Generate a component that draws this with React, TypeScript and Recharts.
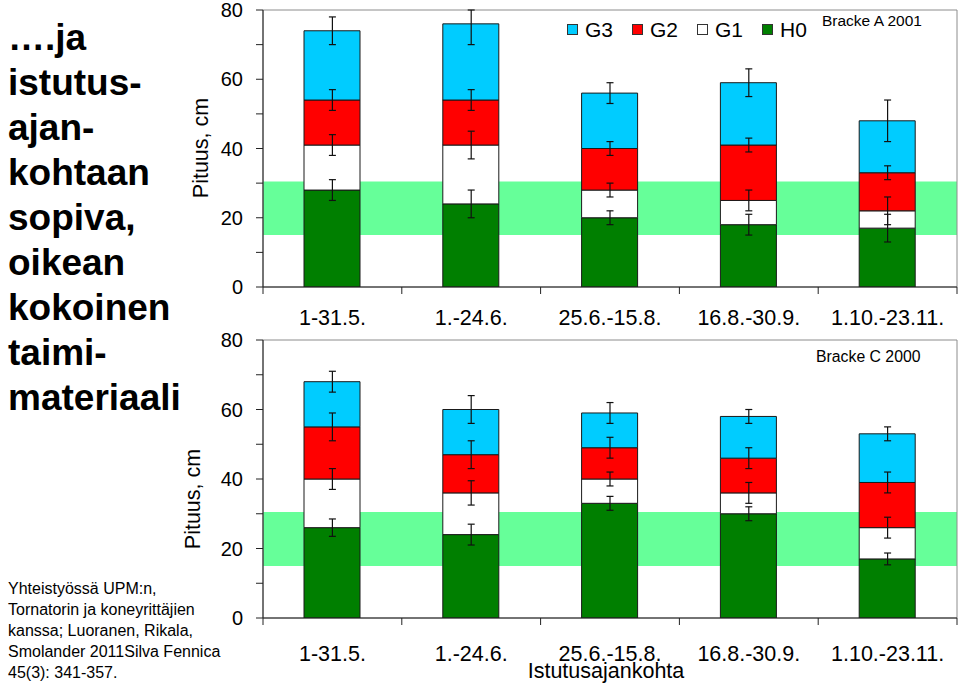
import React from 'react';
import { ComposedChart, Bar, Line, XAxis, YAxis, ReferenceArea, ErrorBar, Legend } from 'recharts';

// ---------- data ----------
const categories = ['1-31.5.', '1.-24.6.', '25.6.-15.8.', '16.8.-30.9.', '1.10.-23.11.'];
const yTicks = [0, 10, 20, 30, 40, 50, 60, 70, 80];
const bandLow = 15;
const bandHigh = 30.5;

type Err = number | [number, number];

// Bracke A 2001 (segment heights, cm)
const aH0 = [28, 24, 20, 18, 17];
const aG1 = [13, 17, 8, 7, 5];
const aG2 = [13, 13, 12, 16, 11];
const aG3 = [20, 22, 16, 18, 15];
// error bars (single value = ±, pair = [down, up] where the bar is cut by the axis top)
const aH0Err: Err[] = [3, 4, 2, 3, 4];
const aG1Err: Err[] = [3, 4, 2, 3, 4];
const aG2Err: Err[] = [3, 3, 2, 2, 2];
const aG3Err: Err[] = [4, [6, 4], 3, 4, 6];

// Bracke C 2000
const cH0 = [26, 24, 33, 30, 17];
const cG1 = [14, 12, 7, 6, 9];
const cG2 = [15, 11, 9, 10, 13];
const cG3 = [13, 13, 10, 12, 14];
const cH0Err: Err[] = [2.5, 3, 2, 2, 1.7];
const cG1Err: Err[] = [3, 3.5, 2, 3, 3];
const cG2Err: Err[] = [4, 4, 3, 3, 3];
const cG3Err: Err[] = [3, 4, 3, 2, 2];

const seriesNames = ['H0', 'G1', 'G2', 'G3'];
const seriesColors: Record<string, string> = {
  H0: '#007F00',
  G1: '#FFFFFF',
  G2: '#FF0000',
  G3: '#00CCFF',
};
const legendOrder = ['G3', 'G2', 'G1', 'H0'];

function buildRows(h0: number[], g1: number[], g2: number[], g3: number[], e0: Err[], e1: Err[], e2: Err[], e3: Err[]) {
  return categories.map((cat, i) => ({
    cat,
    H0: h0[i],
    G1: g1[i],
    G2: g2[i],
    G3: g3[i],
    tH0: h0[i],
    tG1: h0[i] + g1[i],
    tG2: h0[i] + g1[i] + g2[i],
    tG3: h0[i] + g1[i] + g2[i] + g3[i],
    eH0: e0[i],
    eG1: e1[i],
    eG2: e2[i],
    eG3: e3[i],
  }));
}

const rowsA = buildRows(aH0, aG1, aG2, aG3, aH0Err, aG1Err, aG2Err, aG3Err);
const rowsC = buildRows(cH0, cG1, cG2, cG3, cH0Err, cG1Err, cG2Err, cG3Err);

const FONT = '"Liberation Sans", Arial, sans-serif';
const X_TICK_SIZE = 6;

const YTick = (props: any) => {
  const { x, y, payload } = props;
  if (payload.value % 20 !== 0) return <g />;
  return (
    <text x={x} y={y} dy="0.355em" textAnchor="end" fontSize={20} fill="#000" fontFamily={FONT}>
      {payload.value}
    </text>
  );
};

const makeXTick = (tickMargin: number) => (props: any) => {
  const { x, y, payload, index, visibleTicksCount } = props;
  const half = payload && typeof payload.offset === 'number' ? payload.offset : 0;
  const axisY = y - X_TICK_SIZE - tickMargin;
  return (
    <g>
      <line x1={x - half} x2={x - half} y1={axisY} y2={axisY + 7} stroke="#222" strokeWidth={1} />
      {index === visibleTicksCount - 1 ? (
        <line x1={x + half} x2={x + half} y1={axisY} y2={axisY + 7} stroke="#222" strokeWidth={1} />
      ) : null}
      <text x={x} y={y} dy="0.71em" textAnchor="middle" fontSize={21.5} fill="#000" fontFamily={FONT}>
        {payload.value}
      </text>
    </g>
  );
};

const renderLegend = () => (
  <div style={{ display: 'flex', alignItems: 'center', fontFamily: FONT }}>
    {legendOrder.map((name) => (
      <div key={name} style={{ width: 65, display: 'flex', alignItems: 'center', height: 21 }}>
        <span
          style={{
            display: 'inline-block',
            width: 9,
            height: 9,
            background: seriesColors[name],
            border: '1px solid #333',
            marginRight: 7,
          }}
        />
        <span style={{ fontSize: 21, lineHeight: '21px', color: '#000' }}>{name}</span>
      </div>
    ))}
  </div>
);

type PanelProps = {
  rows: any[];
  height: number;
  xAxisHeight: number;
  tickMargin: number;
  showLegend?: boolean;
  xLabel?: string;
};

const Panel = ({ rows, height, xAxisHeight, tickMargin, showLegend, xLabel }: PanelProps) => (
  <ComposedChart
    width={959}
    height={height}
    data={rows}
    margin={{ top: 10, right: 2, bottom: 0, left: 0 }}
  >
    <XAxis
      dataKey="cat"
      height={xAxisHeight}
      tickSize={X_TICK_SIZE}
      tickMargin={tickMargin}
      tickLine={false}
      axisLine={{ stroke: '#222', strokeWidth: 1 }}
      tick={makeXTick(tickMargin)}
      interval={0}
      label={
        xLabel
          ? { value: xLabel, position: 'insideBottom', offset: 7, dx: -4, fontSize: 21.5, fill: '#000', fontFamily: FONT }
          : undefined
      }
    />
    <YAxis
      width={263}
      domain={[0, 80]}
      ticks={yTicks}
      allowDataOverflow
      interval={0}
      tickSize={7}
      tickMargin={13}
      tickLine={{ stroke: '#222' }}
      axisLine={{ stroke: '#222', strokeWidth: 1 }}
      tick={<YTick />}
    />
    <ReferenceArea y1={bandLow} y2={bandHigh} fill="#66FF99" fillOpacity={1} stroke="none" ifOverflow="visible" />
    <ReferenceArea y1={0} y2={80} fill="none" stroke="#8c8c8c" strokeWidth={1} ifOverflow="visible" />
    {seriesNames.map((name) => (
      <Bar
        key={name}
        dataKey={name}
        stackId="s"
        barSize={56}
        fill={seriesColors[name]}
        stroke="#1a1a1a"
        strokeWidth={1}
        isAnimationActive={false}
      />
    ))}
    {seriesNames.map((name) => (
      <Line
        key={'t' + name}
        dataKey={'t' + name}
        stroke="none"
        dot={false}
        activeDot={false}
        legendType="none"
        isAnimationActive={false}
      >
        <ErrorBar dataKey={'e' + name} width={3.5} stroke="#111" strokeWidth={1.2} direction="y" />
      </Line>
    ))}
    {showLegend ? (
      <Legend
        layout="horizontal"
        verticalAlign="middle"
        align="center"
        content={renderLegend}
        wrapperStyle={{ position: 'absolute', left: 567, top: 19, width: 270, height: 21 }}
      />
    ) : null}
  </ComposedChart>
);

const rotLabel = (cx: number, cy: number): React.CSSProperties => ({
  position: 'absolute',
  left: cx,
  top: cy,
  transform: 'translate(-50%, -50%) rotate(-90deg)',
  whiteSpace: 'nowrap',
  fontSize: 21.5,
  lineHeight: '22px',
  color: '#000',
});

export default function App() {
  return (
    <div
      style={{
        position: 'absolute',
        left: 0,
        top: 0,
        width: 959,
        height: 685,
        background: '#fff',
        fontFamily: FONT,
        overflow: 'hidden',
      }}
    >
      <div style={{ position: 'absolute', left: 0, top: 330 }}>
        <Panel rows={rowsC} height={355} xAxisHeight={67} tickMargin={22} xLabel="Istutusajankohta" />
      </div>
      <div style={{ position: 'absolute', left: 0, top: 0 }}>
        <Panel rows={rowsA} height={340} xAxisHeight={53} tickMargin={17} showLegend />
      </div>

      <div style={rotLabel(201, 148)}>Pituus, cm</div>
      <div style={rotLabel(193, 499)}>Pituus, cm</div>

      <div style={{ position: 'absolute', left: 822, top: 13, fontSize: 15.5, lineHeight: '15.5px', whiteSpace: 'nowrap' }}>
        Bracke A 2001
      </div>
      <div style={{ position: 'absolute', left: 816, top: 349, fontSize: 15.8, lineHeight: '15.8px', whiteSpace: 'nowrap' }}>
        Bracke C 2000
      </div>

      <div
        style={{
          position: 'absolute',
          left: 8,
          top: 14.7,
          fontSize: 37,
          lineHeight: '45px',
          fontWeight: 'bold',
          color: '#000',
          whiteSpace: 'nowrap',
        }}
      >
        <div>….ja</div>
        <div>istutus-</div>
        <div>ajan-</div>
        <div>kohtaan</div>
        <div>sopiva,</div>
        <div>oikean</div>
        <div>kokoinen</div>
        <div>taimi-</div>
        <div>materiaali</div>
      </div>

      <div
        style={{
          position: 'absolute',
          left: 8,
          top: 578,
          fontSize: 16,
          lineHeight: '21px',
          color: '#000',
          whiteSpace: 'nowrap',
        }}
      >
        <div>Yhteistyössä UPM:n,</div>
        <div>Tornatorin ja koneyrittäjien</div>
        <div>kanssa; Luoranen, Rikala,</div>
        <div>Smolander 2011Silva Fennica</div>
        <div>45(3): 341-357.</div>
      </div>
    </div>
  );
}
